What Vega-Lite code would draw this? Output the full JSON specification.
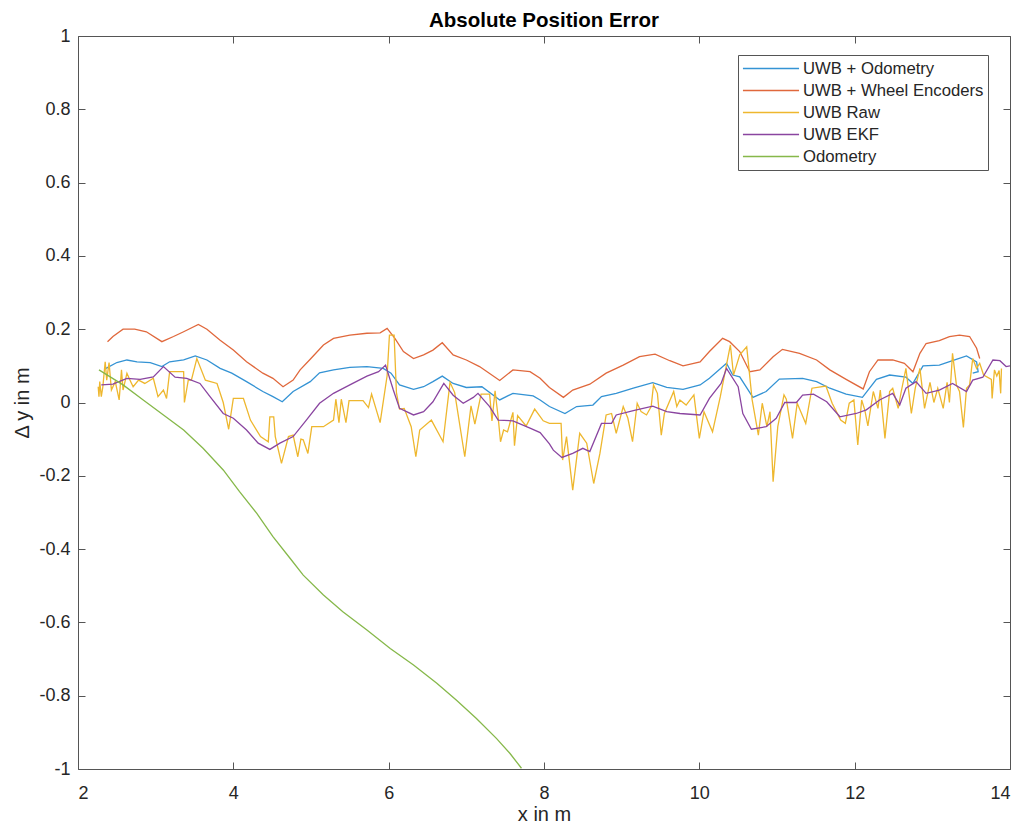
{
  "$schema": "https://vega.github.io/schema/vega-lite/v6.json",
  "width": 932,
  "height": 733,
  "autosize": {"type": "none"},
  "padding": {"left": 78, "top": 36, "right": 14, "bottom": 56},
  "background": "white",
  "config": {
    "font": "Liberation Sans",
    "view": {"stroke": "#555555", "strokeWidth": 1},
    "axis": {"grid": false, "domain": false, "offset": -7, "tickSize": 7, "tickWidth": 1, "tickColor": "#555555", "labelColor": "#262626", "titleColor": "#262626", "labelFontSize": 18, "titleFontSize": 20, "titleFontWeight": "normal"}
  },
  "title": {"text": "Absolute Position Error", "fontSize": 20.5, "fontWeight": "bold", "color": "#000000", "anchor": "middle", "offset": -4},
  "datasets": {
    "pts": [
      {"s":"UWB + Odometry","x":2.36,"y":0.093},{"s":"UWB + Odometry","x":2.50,"y":0.109},{"s":"UWB + Odometry","x":2.63,"y":0.116},{"s":"UWB + Odometry","x":2.76,"y":0.111},{"s":"UWB + Odometry","x":2.93,"y":0.109},{"s":"UWB + Odometry","x":3.08,"y":0.098},{"s":"UWB + Odometry","x":3.18,"y":0.111},{"s":"UWB + Odometry","x":3.36,"y":0.116},{"s":"UWB + Odometry","x":3.51,"y":0.127},{"s":"UWB + Odometry","x":3.66,"y":0.116},{"s":"UWB + Odometry","x":3.83,"y":0.093},{"s":"UWB + Odometry","x":3.98,"y":0.08},{"s":"UWB + Odometry","x":4.17,"y":0.057},{"s":"UWB + Odometry","x":4.38,"y":0.03},{"s":"UWB + Odometry","x":4.51,"y":0.016},{"s":"UWB + Odometry","x":4.63,"y":0.002},{"s":"UWB + Odometry","x":4.77,"y":0.03},{"s":"UWB + Odometry","x":4.99,"y":0.057},{"s":"UWB + Odometry","x":5.11,"y":0.081},{"s":"UWB + Odometry","x":5.29,"y":0.089},{"s":"UWB + Odometry","x":5.50,"y":0.096},{"s":"UWB + Odometry","x":5.72,"y":0.098},{"s":"UWB + Odometry","x":5.93,"y":0.093},{"s":"UWB + Odometry","x":6.03,"y":0.08},{"s":"UWB + Odometry","x":6.14,"y":0.048},{"s":"UWB + Odometry","x":6.32,"y":0.036},{"s":"UWB + Odometry","x":6.45,"y":0.043},{"s":"UWB + Odometry","x":6.57,"y":0.057},{"s":"UWB + Odometry","x":6.69,"y":0.072},{"s":"UWB + Odometry","x":6.83,"y":0.052},{"s":"UWB + Odometry","x":7.0,"y":0.041},{"s":"UWB + Odometry","x":7.20,"y":0.043},{"s":"UWB + Odometry","x":7.43,"y":0.007},{"s":"UWB + Odometry","x":7.60,"y":0.025},{"s":"UWB + Odometry","x":7.86,"y":0.018},{"s":"UWB + Odometry","x":7.95,"y":0.007},{"s":"UWB + Odometry","x":8.07,"y":-0.011},{"s":"UWB + Odometry","x":8.27,"y":-0.03},{"s":"UWB + Odometry","x":8.42,"y":-0.011},{"s":"UWB + Odometry","x":8.63,"y":-0.007},{"s":"UWB + Odometry","x":8.74,"y":0.016},{"s":"UWB + Odometry","x":8.93,"y":0.025},{"s":"UWB + Odometry","x":9.15,"y":0.039},{"s":"UWB + Odometry","x":9.40,"y":0.054},{"s":"UWB + Odometry","x":9.58,"y":0.041},{"s":"UWB + Odometry","x":9.79,"y":0.036},{"s":"UWB + Odometry","x":10.01,"y":0.048},{"s":"UWB + Odometry","x":10.13,"y":0.066},{"s":"UWB + Odometry","x":10.35,"y":0.107},{"s":"UWB + Odometry","x":10.43,"y":0.075},{"s":"UWB + Odometry","x":10.52,"y":0.07},{"s":"UWB + Odometry","x":10.69,"y":0.014},{"s":"UWB + Odometry","x":10.86,"y":0.03},{"s":"UWB + Odometry","x":11.03,"y":0.064},{"s":"UWB + Odometry","x":11.33,"y":0.066},{"s":"UWB + Odometry","x":11.51,"y":0.057},{"s":"UWB + Odometry","x":11.68,"y":0.039},{"s":"UWB + Odometry","x":11.89,"y":0.023},{"s":"UWB + Odometry","x":12.10,"y":0.014},{"s":"UWB + Odometry","x":12.28,"y":0.063},{"s":"UWB + Odometry","x":12.45,"y":0.075},{"s":"UWB + Odometry","x":12.66,"y":0.069},{"s":"UWB + Odometry","x":12.75,"y":0.052},{"s":"UWB + Odometry","x":12.88,"y":0.10},{"s":"UWB + Odometry","x":13.09,"y":0.102},{"s":"UWB + Odometry","x":13.26,"y":0.114},{"s":"UWB + Odometry","x":13.44,"y":0.127},{"s":"UWB + Odometry","x":13.57,"y":0.111},{"s":"UWB + Odometry","x":13.59,"y":0.084},{"s":"UWB + Odometry","x":13.52,"y":0.08},

      {"s":"UWB + Wheel Encoders","x":2.38,"y":0.166},{"s":"UWB + Wheel Encoders","x":2.45,"y":0.18},{"s":"UWB + Wheel Encoders","x":2.58,"y":0.20},{"s":"UWB + Wheel Encoders","x":2.73,"y":0.20},{"s":"UWB + Wheel Encoders","x":2.88,"y":0.193},{"s":"UWB + Wheel Encoders","x":3.08,"y":0.166},{"s":"UWB + Wheel Encoders","x":3.23,"y":0.18},{"s":"UWB + Wheel Encoders","x":3.36,"y":0.193},{"s":"UWB + Wheel Encoders","x":3.55,"y":0.213},{"s":"UWB + Wheel Encoders","x":3.66,"y":0.20},{"s":"UWB + Wheel Encoders","x":3.83,"y":0.17},{"s":"UWB + Wheel Encoders","x":4.0,"y":0.143},{"s":"UWB + Wheel Encoders","x":4.17,"y":0.111},{"s":"UWB + Wheel Encoders","x":4.38,"y":0.08},{"s":"UWB + Wheel Encoders","x":4.51,"y":0.066},{"s":"UWB + Wheel Encoders","x":4.64,"y":0.043},{"s":"UWB + Wheel Encoders","x":4.77,"y":0.061},{"s":"UWB + Wheel Encoders","x":4.86,"y":0.089},{"s":"UWB + Wheel Encoders","x":4.99,"y":0.118},{"s":"UWB + Wheel Encoders","x":5.16,"y":0.157},{"s":"UWB + Wheel Encoders","x":5.29,"y":0.175},{"s":"UWB + Wheel Encoders","x":5.50,"y":0.184},{"s":"UWB + Wheel Encoders","x":5.72,"y":0.189},{"s":"UWB + Wheel Encoders","x":5.89,"y":0.19},{"s":"UWB + Wheel Encoders","x":5.98,"y":0.202},{"s":"UWB + Wheel Encoders","x":6.08,"y":0.175},{"s":"UWB + Wheel Encoders","x":6.19,"y":0.139},{"s":"UWB + Wheel Encoders","x":6.32,"y":0.12},{"s":"UWB + Wheel Encoders","x":6.45,"y":0.13},{"s":"UWB + Wheel Encoders","x":6.57,"y":0.143},{"s":"UWB + Wheel Encoders","x":6.69,"y":0.163},{"s":"UWB + Wheel Encoders","x":6.83,"y":0.13},{"s":"UWB + Wheel Encoders","x":7.0,"y":0.116},{"s":"UWB + Wheel Encoders","x":7.17,"y":0.098},{"s":"UWB + Wheel Encoders","x":7.43,"y":0.06},{"s":"UWB + Wheel Encoders","x":7.60,"y":0.089},{"s":"UWB + Wheel Encoders","x":7.82,"y":0.084},{"s":"UWB + Wheel Encoders","x":7.95,"y":0.066},{"s":"UWB + Wheel Encoders","x":8.07,"y":0.041},{"s":"UWB + Wheel Encoders","x":8.25,"y":0.014},{"s":"UWB + Wheel Encoders","x":8.37,"y":0.034},{"s":"UWB + Wheel Encoders","x":8.59,"y":0.05},{"s":"UWB + Wheel Encoders","x":8.80,"y":0.08},{"s":"UWB + Wheel Encoders","x":9.02,"y":0.102},{"s":"UWB + Wheel Encoders","x":9.23,"y":0.125},{"s":"UWB + Wheel Encoders","x":9.43,"y":0.132},{"s":"UWB + Wheel Encoders","x":9.62,"y":0.114},{"s":"UWB + Wheel Encoders","x":9.79,"y":0.10},{"s":"UWB + Wheel Encoders","x":10.01,"y":0.111},{"s":"UWB + Wheel Encoders","x":10.13,"y":0.139},{"s":"UWB + Wheel Encoders","x":10.30,"y":0.175},{"s":"UWB + Wheel Encoders","x":10.39,"y":0.166},{"s":"UWB + Wheel Encoders","x":10.52,"y":0.139},{"s":"UWB + Wheel Encoders","x":10.65,"y":0.084},{"s":"UWB + Wheel Encoders","x":10.78,"y":0.089},{"s":"UWB + Wheel Encoders","x":10.95,"y":0.125},{"s":"UWB + Wheel Encoders","x":11.07,"y":0.145},{"s":"UWB + Wheel Encoders","x":11.29,"y":0.134},{"s":"UWB + Wheel Encoders","x":11.51,"y":0.116},{"s":"UWB + Wheel Encoders","x":11.68,"y":0.089},{"s":"UWB + Wheel Encoders","x":11.89,"y":0.063},{"s":"UWB + Wheel Encoders","x":12.11,"y":0.037},{"s":"UWB + Wheel Encoders","x":12.19,"y":0.084},{"s":"UWB + Wheel Encoders","x":12.30,"y":0.116},{"s":"UWB + Wheel Encoders","x":12.49,"y":0.116},{"s":"UWB + Wheel Encoders","x":12.64,"y":0.107},{"s":"UWB + Wheel Encoders","x":12.75,"y":0.084},{"s":"UWB + Wheel Encoders","x":12.84,"y":0.134},{"s":"UWB + Wheel Encoders","x":12.92,"y":0.161},{"s":"UWB + Wheel Encoders","x":13.09,"y":0.169},{"s":"UWB + Wheel Encoders","x":13.22,"y":0.18},{"s":"UWB + Wheel Encoders","x":13.35,"y":0.184},{"s":"UWB + Wheel Encoders","x":13.48,"y":0.18},{"s":"UWB + Wheel Encoders","x":13.57,"y":0.148},{"s":"UWB + Wheel Encoders","x":13.61,"y":0.12},

      {"s":"UWB Raw","x":2.26,"y":0.043},{"s":"UWB Raw","x":2.27,"y":0.016},{"s":"UWB Raw","x":2.28,"y":0.057},{"s":"UWB Raw","x":2.30,"y":0.016},{"s":"UWB Raw","x":2.32,"y":0.043},{"s":"UWB Raw","x":2.35,"y":0.111},{"s":"UWB Raw","x":2.37,"y":0.061},{"s":"UWB Raw","x":2.40,"y":0.109},{"s":"UWB Raw","x":2.43,"y":0.034},{"s":"UWB Raw","x":2.48,"y":0.057},{"s":"UWB Raw","x":2.53,"y":0.007},{"s":"UWB Raw","x":2.56,"y":0.089},{"s":"UWB Raw","x":2.58,"y":0.034},{"s":"UWB Raw","x":2.63,"y":0.08},{"s":"UWB Raw","x":2.67,"y":0.061},{"s":"UWB Raw","x":2.71,"y":0.043},{"s":"UWB Raw","x":2.78,"y":0.061},{"s":"UWB Raw","x":2.86,"y":0.052},{"s":"UWB Raw","x":2.97,"y":0.066},{"s":"UWB Raw","x":3.03,"y":0.016},{"s":"UWB Raw","x":3.10,"y":0.034},{"s":"UWB Raw","x":3.14,"y":0.011},{"s":"UWB Raw","x":3.18,"y":0.084},{"s":"UWB Raw","x":3.36,"y":0.084},{"s":"UWB Raw","x":3.37,"y":0.0},{"s":"UWB Raw","x":3.42,"y":0.061},{"s":"UWB Raw","x":3.46,"y":0.061},{"s":"UWB Raw","x":3.53,"y":0.12},{"s":"UWB Raw","x":3.64,"y":0.061},{"s":"UWB Raw","x":3.79,"y":0.052},{"s":"UWB Raw","x":3.87,"y":0.0},{"s":"UWB Raw","x":3.94,"y":-0.073},{"s":"UWB Raw","x":4.0,"y":0.011},{"s":"UWB Raw","x":4.13,"y":0.011},{"s":"UWB Raw","x":4.22,"y":-0.048},{"s":"UWB Raw","x":4.35,"y":-0.093},{"s":"UWB Raw","x":4.45,"y":-0.107},{"s":"UWB Raw","x":4.47,"y":-0.039},{"s":"UWB Raw","x":4.52,"y":-0.039},{"s":"UWB Raw","x":4.54,"y":-0.093},{"s":"UWB Raw","x":4.62,"y":-0.166},{"s":"UWB Raw","x":4.71,"y":-0.093},{"s":"UWB Raw","x":4.77,"y":-0.089},{"s":"UWB Raw","x":4.83,"y":-0.148},{"s":"UWB Raw","x":4.87,"y":-0.1},{"s":"UWB Raw","x":4.90,"y":-0.102},{"s":"UWB Raw","x":4.96,"y":-0.139},{"s":"UWB Raw","x":5.01,"y":-0.066},{"s":"UWB Raw","x":5.16,"y":-0.066},{"s":"UWB Raw","x":5.29,"y":-0.048},{"s":"UWB Raw","x":5.32,"y":0.009},{"s":"UWB Raw","x":5.36,"y":-0.055},{"s":"UWB Raw","x":5.39,"y":0.009},{"s":"UWB Raw","x":5.45,"y":-0.055},{"s":"UWB Raw","x":5.49,"y":0.005},{"s":"UWB Raw","x":5.67,"y":0.005},{"s":"UWB Raw","x":5.74,"y":-0.014},{"s":"UWB Raw","x":5.78,"y":0.023},{"s":"UWB Raw","x":5.89,"y":-0.055},{"s":"UWB Raw","x":5.98,"y":0.073},{"s":"UWB Raw","x":6.01,"y":0.184},{"s":"UWB Raw","x":6.07,"y":0.184},{"s":"UWB Raw","x":6.10,"y":0.027},{"s":"UWB Raw","x":6.14,"y":-0.018},{"s":"UWB Raw","x":6.20,"y":-0.016},{"s":"UWB Raw","x":6.29,"y":-0.066},{"s":"UWB Raw","x":6.35,"y":-0.148},{"s":"UWB Raw","x":6.40,"y":-0.075},{"s":"UWB Raw","x":6.55,"y":-0.048},{"s":"UWB Raw","x":6.70,"y":-0.107},{"s":"UWB Raw","x":6.79,"y":0.055},{"s":"UWB Raw","x":6.85,"y":0.027},{"s":"UWB Raw","x":6.98,"y":-0.148},{"s":"UWB Raw","x":7.06,"y":-0.009},{"s":"UWB Raw","x":7.11,"y":-0.059},{"s":"UWB Raw","x":7.19,"y":0.023},{"s":"UWB Raw","x":7.30,"y":0.023},{"s":"UWB Raw","x":7.33,"y":-0.05},{"s":"UWB Raw","x":7.37,"y":0.032},{"s":"UWB Raw","x":7.41,"y":-0.041},{"s":"UWB Raw","x":7.44,"y":-0.107},{"s":"UWB Raw","x":7.48,"y":-0.075},{"s":"UWB Raw","x":7.53,"y":-0.08},{"s":"UWB Raw","x":7.60,"y":-0.027},{"s":"UWB Raw","x":7.62,"y":-0.118},{"s":"UWB Raw","x":7.66,"y":-0.036},{"s":"UWB Raw","x":7.77,"y":-0.064},{"s":"UWB Raw","x":7.88,"y":-0.018},{"s":"UWB Raw","x":7.99,"y":-0.05},{"s":"UWB Raw","x":8.07,"y":-0.057},{"s":"UWB Raw","x":8.22,"y":-0.057},{"s":"UWB Raw","x":8.24,"y":-0.157},{"s":"UWB Raw","x":8.29,"y":-0.093},{"s":"UWB Raw","x":8.37,"y":-0.239},{"s":"UWB Raw","x":8.46,"y":-0.084},{"s":"UWB Raw","x":8.55,"y":-0.111},{"s":"UWB Raw","x":8.64,"y":-0.221},{"s":"UWB Raw","x":8.72,"y":-0.139},{"s":"UWB Raw","x":8.80,"y":-0.034},{"s":"UWB Raw","x":8.87,"y":-0.03},{"s":"UWB Raw","x":8.93,"y":-0.084},{"s":"UWB Raw","x":9.02,"y":-0.011},{"s":"UWB Raw","x":9.08,"y":-0.043},{"s":"UWB Raw","x":9.14,"y":-0.107},{"s":"UWB Raw","x":9.20,"y":-0.002},{"s":"UWB Raw","x":9.25,"y":-0.025},{"s":"UWB Raw","x":9.32,"y":-0.034},{"s":"UWB Raw","x":9.38,"y":-0.011},{"s":"UWB Raw","x":9.41,"y":0.048},{"s":"UWB Raw","x":9.46,"y":0.025},{"s":"UWB Raw","x":9.51,"y":-0.089},{"s":"UWB Raw","x":9.55,"y":-0.03},{"s":"UWB Raw","x":9.67,"y":0.03},{"s":"UWB Raw","x":9.71,"y":-0.011},{"s":"UWB Raw","x":9.75,"y":0.007},{"s":"UWB Raw","x":9.83,"y":-0.007},{"s":"UWB Raw","x":9.93,"y":0.021},{"s":"UWB Raw","x":10.00,"y":-0.098},{"s":"UWB Raw","x":10.06,"y":-0.025},{"s":"UWB Raw","x":10.17,"y":-0.08},{"s":"UWB Raw","x":10.27,"y":0.016},{"s":"UWB Raw","x":10.40,"y":0.157},{"s":"UWB Raw","x":10.44,"y":0.075},{"s":"UWB Raw","x":10.48,"y":0.102},{"s":"UWB Raw","x":10.52,"y":0.13},{"s":"UWB Raw","x":10.61,"y":0.152},{"s":"UWB Raw","x":10.68,"y":0.007},{"s":"UWB Raw","x":10.76,"y":-0.089},{"s":"UWB Raw","x":10.81,"y":-0.002},{"s":"UWB Raw","x":10.87,"y":-0.066},{"s":"UWB Raw","x":10.91,"y":-0.025},{"s":"UWB Raw","x":10.95,"y":-0.216},{"s":"UWB Raw","x":11.01,"y":-0.066},{"s":"UWB Raw","x":11.09,"y":0.021},{"s":"UWB Raw","x":11.12,"y":0.009},{"s":"UWB Raw","x":11.20,"y":-0.098},{"s":"UWB Raw","x":11.26,"y":-0.002},{"s":"UWB Raw","x":11.37,"y":-0.057},{"s":"UWB Raw","x":11.45,"y":0.039},{"s":"UWB Raw","x":11.63,"y":0.045},{"s":"UWB Raw","x":11.71,"y":-0.002},{"s":"UWB Raw","x":11.82,"y":-0.048},{"s":"UWB Raw","x":11.88,"y":-0.057},{"s":"UWB Raw","x":11.93,"y":-0.002},{"s":"UWB Raw","x":11.99,"y":0.007},{"s":"UWB Raw","x":12.04,"y":-0.116},{"s":"UWB Raw","x":12.09,"y":0.007},{"s":"UWB Raw","x":12.13,"y":-0.02},{"s":"UWB Raw","x":12.17,"y":-0.064},{"s":"UWB Raw","x":12.24,"y":0.03},{"s":"UWB Raw","x":12.30,"y":-0.016},{"s":"UWB Raw","x":12.33,"y":0.034},{"s":"UWB Raw","x":12.39,"y":-0.098},{"s":"UWB Raw","x":12.45,"y":0.03},{"s":"UWB Raw","x":12.49,"y":0.039},{"s":"UWB Raw","x":12.56,"y":-0.016},{"s":"UWB Raw","x":12.60,"y":0.03},{"s":"UWB Raw","x":12.66,"y":0.093},{"s":"UWB Raw","x":12.73,"y":-0.03},{"s":"UWB Raw","x":12.78,"y":0.039},{"s":"UWB Raw","x":12.84,"y":0.093},{"s":"UWB Raw","x":12.90,"y":-0.016},{"s":"UWB Raw","x":12.97,"y":0.055},{"s":"UWB Raw","x":13.02,"y":0.0},{"s":"UWB Raw","x":13.07,"y":0.039},{"s":"UWB Raw","x":13.14,"y":-0.016},{"s":"UWB Raw","x":13.19,"y":0.055},{"s":"UWB Raw","x":13.22,"y":0.0},{"s":"UWB Raw","x":13.26,"y":0.134},{"s":"UWB Raw","x":13.31,"y":0.048},{"s":"UWB Raw","x":13.35,"y":0.03},{"s":"UWB Raw","x":13.40,"y":-0.068},{"s":"UWB Raw","x":13.44,"y":0.039},{"s":"UWB Raw","x":13.48,"y":0.048},{"s":"UWB Raw","x":13.52,"y":0.12},{"s":"UWB Raw","x":13.57,"y":0.093},{"s":"UWB Raw","x":13.61,"y":0.107},{"s":"UWB Raw","x":13.66,"y":0.075},{"s":"UWB Raw","x":13.76,"y":0.063},{"s":"UWB Raw","x":13.77,"y":0.011},{"s":"UWB Raw","x":13.80,"y":0.089},{"s":"UWB Raw","x":13.83,"y":0.072},{"s":"UWB Raw","x":13.86,"y":0.087},{"s":"UWB Raw","x":13.88,"y":0.025},{"s":"UWB Raw","x":13.89,"y":0.093},

      {"s":"UWB EKF","x":2.30,"y":0.048},{"s":"UWB EKF","x":2.45,"y":0.05},{"s":"UWB EKF","x":2.63,"y":0.066},{"s":"UWB EKF","x":2.80,"y":0.063},{"s":"UWB EKF","x":2.97,"y":0.07},{"s":"UWB EKF","x":3.10,"y":0.098},{"s":"UWB EKF","x":3.25,"y":0.069},{"s":"UWB EKF","x":3.40,"y":0.066},{"s":"UWB EKF","x":3.57,"y":0.052},{"s":"UWB EKF","x":3.70,"y":0.016},{"s":"UWB EKF","x":3.87,"y":-0.03},{"s":"UWB EKF","x":4.0,"y":-0.043},{"s":"UWB EKF","x":4.17,"y":-0.075},{"s":"UWB EKF","x":4.32,"y":-0.111},{"s":"UWB EKF","x":4.47,"y":-0.128},{"s":"UWB EKF","x":4.60,"y":-0.111},{"s":"UWB EKF","x":4.77,"y":-0.093},{"s":"UWB EKF","x":4.94,"y":-0.048},{"s":"UWB EKF","x":5.11,"y":-0.002},{"s":"UWB EKF","x":5.29,"y":0.025},{"s":"UWB EKF","x":5.50,"y":0.048},{"s":"UWB EKF","x":5.72,"y":0.072},{"s":"UWB EKF","x":5.87,"y":0.084},{"s":"UWB EKF","x":5.96,"y":0.102},{"s":"UWB EKF","x":6.06,"y":0.034},{"s":"UWB EKF","x":6.14,"y":-0.016},{"s":"UWB EKF","x":6.32,"y":-0.034},{"s":"UWB EKF","x":6.45,"y":-0.025},{"s":"UWB EKF","x":6.57,"y":0.002},{"s":"UWB EKF","x":6.71,"y":0.052},{"s":"UWB EKF","x":6.83,"y":0.02},{"s":"UWB EKF","x":6.96,"y":-0.002},{"s":"UWB EKF","x":7.09,"y":0.014},{"s":"UWB EKF","x":7.15,"y":0.025},{"s":"UWB EKF","x":7.30,"y":-0.011},{"s":"UWB EKF","x":7.41,"y":-0.048},{"s":"UWB EKF","x":7.60,"y":-0.05},{"s":"UWB EKF","x":7.82,"y":-0.07},{"s":"UWB EKF","x":7.95,"y":-0.082},{"s":"UWB EKF","x":8.07,"y":-0.113},{"s":"UWB EKF","x":8.12,"y":-0.13},{"s":"UWB EKF","x":8.23,"y":-0.15},{"s":"UWB EKF","x":8.37,"y":-0.139},{"s":"UWB EKF","x":8.50,"y":-0.125},{"s":"UWB EKF","x":8.59,"y":-0.134},{"s":"UWB EKF","x":8.74,"y":-0.057},{"s":"UWB EKF","x":8.87,"y":-0.057},{"s":"UWB EKF","x":8.93,"y":-0.034},{"s":"UWB EKF","x":9.15,"y":-0.022},{"s":"UWB EKF","x":9.40,"y":-0.01},{"s":"UWB EKF","x":9.58,"y":-0.025},{"s":"UWB EKF","x":9.75,"y":-0.03},{"s":"UWB EKF","x":10.01,"y":-0.034},{"s":"UWB EKF","x":10.13,"y":0.011},{"s":"UWB EKF","x":10.28,"y":0.052},{"s":"UWB EKF","x":10.35,"y":0.093},{"s":"UWB EKF","x":10.50,"y":0.043},{"s":"UWB EKF","x":10.56,"y":-0.03},{"s":"UWB EKF","x":10.67,"y":-0.073},{"s":"UWB EKF","x":10.86,"y":-0.066},{"s":"UWB EKF","x":10.99,"y":-0.043},{"s":"UWB EKF","x":11.10,"y":0.0},{"s":"UWB EKF","x":11.25,"y":0.0},{"s":"UWB EKF","x":11.33,"y":0.02},{"s":"UWB EKF","x":11.47,"y":0.023},{"s":"UWB EKF","x":11.64,"y":0.002},{"s":"UWB EKF","x":11.81,"y":-0.039},{"s":"UWB EKF","x":12.02,"y":-0.03},{"s":"UWB EKF","x":12.15,"y":-0.02},{"s":"UWB EKF","x":12.32,"y":0.007},{"s":"UWB EKF","x":12.49,"y":0.025},{"s":"UWB EKF","x":12.58,"y":-0.007},{"s":"UWB EKF","x":12.66,"y":0.039},{"s":"UWB EKF","x":12.79,"y":0.057},{"s":"UWB EKF","x":12.92,"y":0.025},{"s":"UWB EKF","x":13.09,"y":0.034},{"s":"UWB EKF","x":13.26,"y":0.052},{"s":"UWB EKF","x":13.44,"y":0.03},{"s":"UWB EKF","x":13.52,"y":0.061},{"s":"UWB EKF","x":13.65,"y":0.069},{"s":"UWB EKF","x":13.78,"y":0.116},{"s":"UWB EKF","x":13.87,"y":0.114},{"s":"UWB EKF","x":13.95,"y":0.098},{"s":"UWB EKF","x":14.0,"y":0.10},

      {"s":"Odometry","x":2.27,"y":0.089},{"s":"Odometry","x":2.58,"y":0.048},{"s":"Odometry","x":2.84,"y":0.007},{"s":"Odometry","x":3.10,"y":-0.034},{"s":"Odometry","x":3.36,"y":-0.075},{"s":"Odometry","x":3.61,"y":-0.125},{"s":"Odometry","x":3.87,"y":-0.184},{"s":"Odometry","x":4.08,"y":-0.243},{"s":"Odometry","x":4.30,"y":-0.302},{"s":"Odometry","x":4.51,"y":-0.366},{"s":"Odometry","x":4.73,"y":-0.425},{"s":"Odometry","x":4.90,"y":-0.471},{"s":"Odometry","x":5.16,"y":-0.525},{"s":"Odometry","x":5.41,"y":-0.571},{"s":"Odometry","x":5.72,"y":-0.621},{"s":"Odometry","x":6.02,"y":-0.671},{"s":"Odometry","x":6.32,"y":-0.716},{"s":"Odometry","x":6.62,"y":-0.766},{"s":"Odometry","x":6.87,"y":-0.812},{"s":"Odometry","x":7.13,"y":-0.862},{"s":"Odometry","x":7.39,"y":-0.917},{"s":"Odometry","x":7.56,"y":-0.957},{"s":"Odometry","x":7.71,"y":-0.998}
    ]
  },
  "data": {"name": "pts"},
  "layer": [
    {
      "mark": {"type": "line", "strokeWidth": 1.3, "clip": true},
      "encoding": {
        "x": {"field": "x", "type": "quantitative", "scale": {"domain": [2, 14], "nice": false, "zero": false},
              "axis": {"values": [2, 4, 6, 8, 10, 12, 14], "title": "x in m", "labelPadding": 15, "titlePadding": 2}},
        "y": {"field": "y", "type": "quantitative", "scale": {"domain": [-1, 1], "nice": false, "zero": false},
              "axis": {"values": [-1, -0.8, -0.6, -0.4, -0.2, 0, 0.2, 0.4, 0.6, 0.8, 1], "title": "Δ y in m", "labelPadding": 8, "titlePadding": 6,
                       "labelExpr": "replace(format(datum.value, '.1~f'), '−', '-')"}},
        "color": {"field": "s", "type": "nominal",
                  "scale": {"domain": ["UWB + Odometry", "UWB + Wheel Encoders", "UWB Raw", "UWB EKF", "Odometry"],
                            "range": ["#3493d4", "#e0683c", "#eeb72e", "#8a45a0", "#86b84a"]},
                  "legend": {"title": null, "orient": "none", "legendX": 660, "legendY": 19, "symbolType": "M-3.3,0H3.3", "symbolSize": 289, "symbolStrokeWidth": 1.5, "symbolOffset": 19.5,
                             "labelFontSize": 16.7, "labelColor": "#262626", "labelLimit": 400, "rowPadding": 3, "strokeColor": "#555555", "fillColor": "white", "padding": 4, "labelOffset": 22.5}},
        "order": {"value": null}
      }
    },
    {
      "mark": {"type": "point", "opacity": 0},
      "encoding": {
        "x": {"field": "x", "type": "quantitative", "axis": {"orient": "top", "values": [2, 4, 6, 8, 10, 12, 14], "labels": false, "title": null}},
        "y": {"field": "y", "type": "quantitative", "axis": {"orient": "right", "values": [-1, -0.8, -0.6, -0.4, -0.2, 0, 0.2, 0.4, 0.6, 0.8, 1], "labels": false, "title": null}}
      }
    }
  ],
  "resolve": {"axis": {"x": "independent", "y": "independent"}}
}
